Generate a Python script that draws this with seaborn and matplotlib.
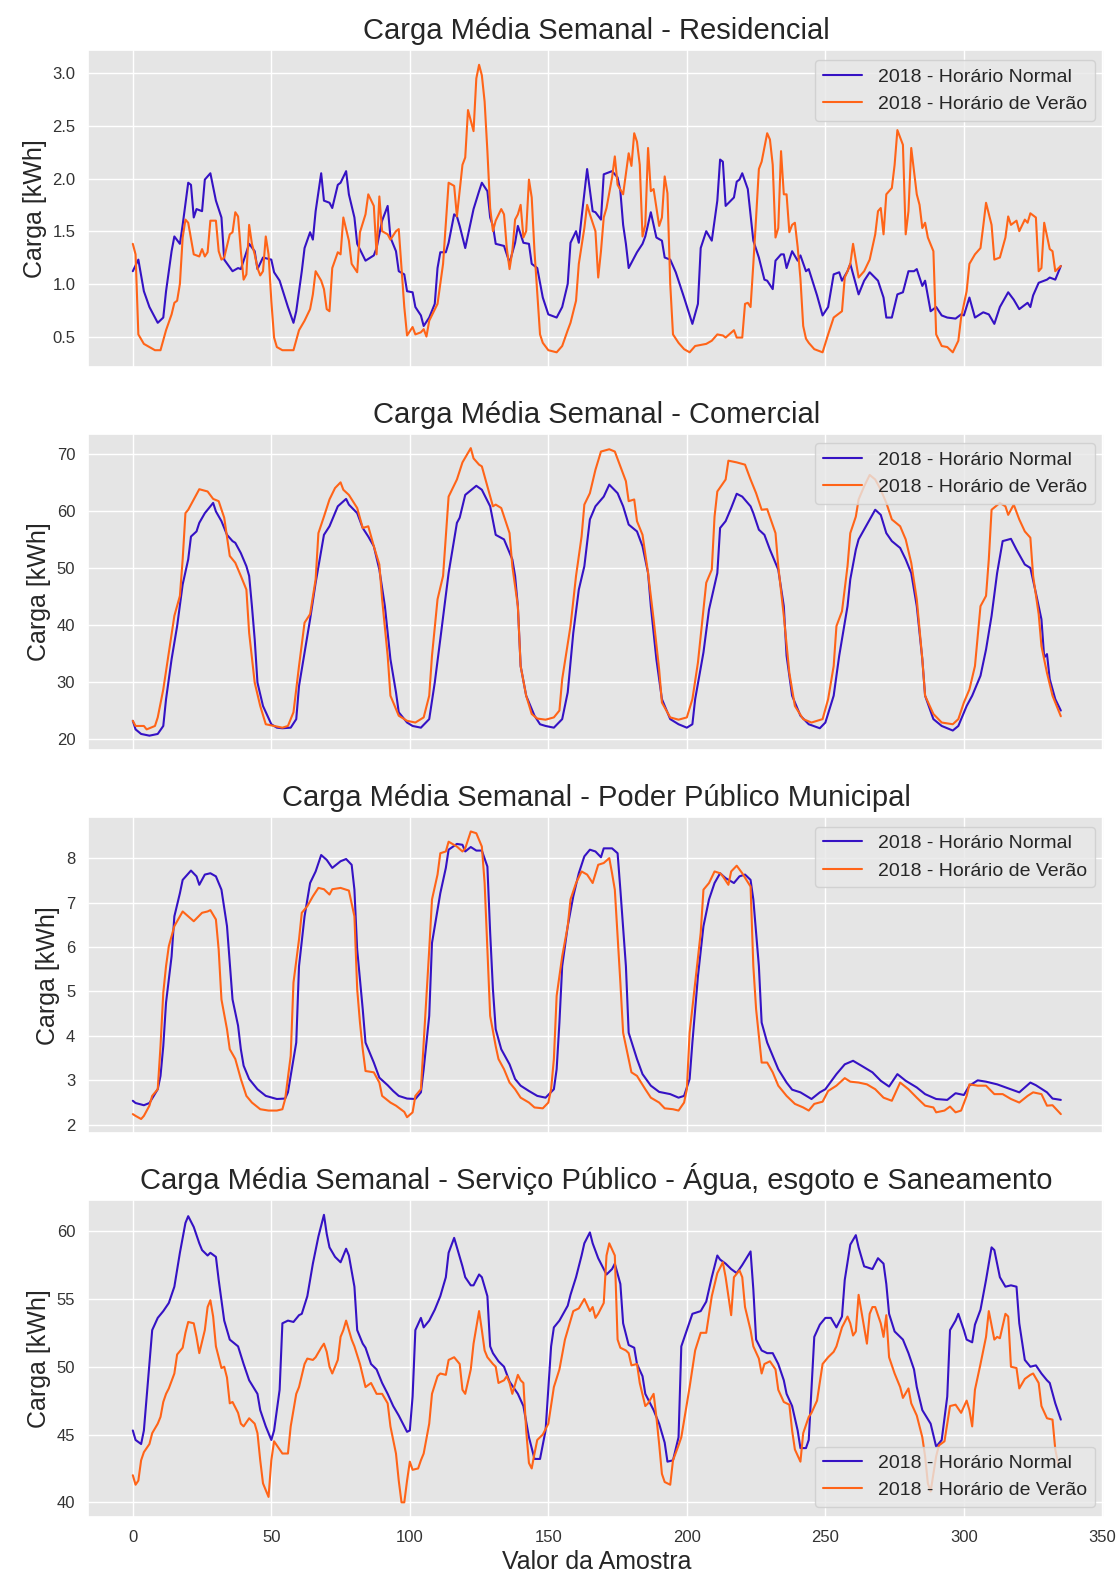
import matplotlib
matplotlib.use("Agg")
import matplotlib.pyplot as plt
from matplotlib.ticker import MultipleLocator
import pandas as pd
import seaborn as sns

# Weekly mean load curves (half-hour samples 0..335), (sample, kWh) pairs
res_normal = [(0,1.12),(2,1.23),(4,0.93),(6,0.78),(9,0.63),(11,0.68),(12,0.93),(14,1.31),(15,1.45),(17,1.38),(18,1.56),(20,1.96),(21,1.94),(22,1.63),(23,1.71),(25,1.69),(26,1.99),(28,2.05),(30,1.79),(32,1.63),(33,1.23),(36,1.12),(38,1.15),(39,1.14),(42,1.38),(44,1.31),(45,1.14),(47,1.25),(50,1.23),(51,1.11),(53,1.03),(56,0.78),(58,0.63),(59,0.74),(61,1.12),(62,1.34),(64,1.49),(65,1.42),(66,1.69),(68,2.05),(69,1.79),(71,1.77),(72,1.72),(74,1.94),(75,1.96),(77,2.07),(78,1.85),(80,1.63),(81,1.38),(84,1.22),(87,1.27),(88,1.34),(90,1.60),(92,1.74),(93,1.44),(95,1.31),(96,1.12),(98,1.09),(99,0.93),(101,0.92),(102,0.78),(104,0.70),(105,0.60),(107,0.68),(109,0.81),(110,1.15),(111,1.30),(113,1.30),(114,1.39),(116,1.66),(117,1.64),(118,1.55),(120,1.34),(123,1.71),(125,1.88),(126,1.96),(128,1.88),(129,1.63),(130,1.55),(131,1.38),(134,1.36),(136,1.20),(138,1.39),(139,1.55),(141,1.39),(143,1.38),(144,1.19),(146,1.15),(148,0.87),(150,0.71),(153,0.68),(155,0.78),(157,1.00),(158,1.39),(160,1.50),(161,1.39),(162,1.63),(164,2.09),(166,1.69),(167,1.68),(169,1.61),(170,2.04),(173,2.07),(175,2.01),(176,1.88),(177,1.56),(178,1.38),(179,1.15),(182,1.30),(184,1.38),(185,1.45),(187,1.68),(189,1.44),(191,1.41),(192,1.25),(194,1.23),(196,1.11),(199,0.87),(202,0.62),(204,0.81),(205,1.34),(207,1.50),(209,1.41),(211,1.79),(212,2.18),(213,2.16),(214,1.74),(217,1.82),(218,1.97),(219,1.99),(220,2.05),(222,1.90),(224,1.41),(226,1.25),(228,1.04),(229,1.03),(231,0.95),(232,1.22),(234,1.28),(235,1.28),(236,1.15),(238,1.31),(240,1.22),(241,1.27),(243,1.12),(244,1.14),(247,0.89),(249,0.70),(251,0.78),(253,1.09),(255,1.11),(256,1.03),(258,1.12),(259,1.19),(262,0.90),(264,1.03),(266,1.11),(269,1.03),(271,0.87),(272,0.68),(274,0.68),(276,0.90),(278,0.92),(280,1.12),(282,1.12),(283,1.14),(285,0.98),(286,1.03),(288,0.74),(290,0.78),(292,0.70),(294,0.68),(297,0.67),(299,0.71),(300,0.70),(302,0.87),(304,0.68),(307,0.73),(309,0.71),(311,0.62),(313,0.78),(316,0.92),(318,0.85),(320,0.76),(323,0.82),(324,0.78),(325,0.89),(327,1.01),(330,1.04),(331,1.06),(333,1.04),(335,1.17)]
res_verao = [(0,1.38),(1,1.28),(2,0.52),(4,0.43),(6,0.40),(8,0.37),(10,0.37),(12,0.56),(14,0.71),(15,0.82),(16,0.84),(17,1.00),(18,1.44),(19,1.61),(20,1.58),(22,1.28),(24,1.26),(25,1.33),(26,1.26),(27,1.30),(28,1.60),(30,1.60),(31,1.31),(32,1.23),(33,1.25),(35,1.47),(36,1.49),(37,1.68),(38,1.64),(39,1.31),(40,1.04),(41,1.09),(42,1.56),(43,1.38),(44,1.28),(45,1.15),(46,1.08),(47,1.12),(48,1.45),(49,1.28),(50,0.84),(51,0.49),(52,0.40),(54,0.37),(58,0.37),(60,0.56),(62,0.65),(64,0.76),(65,0.90),(66,1.12),(68,1.03),(69,0.95),(70,0.76),(71,0.74),(72,1.15),(74,1.30),(75,1.28),(76,1.63),(78,1.41),(79,1.19),(81,1.11),(82,1.49),(84,1.66),(85,1.85),(87,1.74),(88,1.28),(89,1.83),(90,1.50),(92,1.47),(93,1.42),(95,1.50),(96,1.52),(97,1.15),(98,0.78),(99,0.51),(101,0.59),(102,0.52),(104,0.54),(105,0.57),(106,0.50),(107,0.65),(110,0.81),(112,1.19),(114,1.96),(116,1.93),(117,1.64),(119,2.13),(120,2.20),(121,2.65),(123,2.45),(124,2.95),(125,3.08),(126,2.98),(127,2.73),(128,2.26),(129,1.72),(130,1.50),(131,1.60),(133,1.71),(134,1.66),(135,1.34),(136,1.14),(137,1.31),(138,1.61),(139,1.66),(140,1.75),(141,1.44),(142,1.50),(143,1.99),(144,1.82),(145,1.31),(147,0.52),(148,0.44),(150,0.37),(153,0.35),(155,0.41),(157,0.56),(158,0.63),(160,0.84),(161,1.19),(163,1.53),(164,1.75),(165,1.66),(167,1.50),(168,1.06),(169,1.31),(170,1.63),(171,1.72),(173,2.01),(174,2.21),(175,1.94),(177,1.85),(179,2.24),(180,2.12),(181,2.43),(182,2.35),(183,2.13),(184,1.45),(185,1.56),(186,2.29),(187,1.88),(188,1.90),(190,1.55),(191,1.63),(192,2.02),(193,1.86),(194,1.00),(195,0.52),(197,0.44),(199,0.38),(201,0.35),(203,0.41),(207,0.43),(209,0.46),(211,0.52),(213,0.51),(214,0.49),(217,0.56),(218,0.49),(220,0.49),(221,0.81),(222,0.82),(223,0.78),(224,1.19),(225,1.63),(226,2.09),(227,2.16),(229,2.43),(230,2.37),(231,2.13),(232,1.44),(233,1.53),(234,2.26),(235,1.85),(236,1.85),(237,1.49),(238,1.56),(239,1.58),(240,1.35),(241,1.05),(242,0.60),(243,0.48),(244,0.44),(246,0.38),(249,0.35),(251,0.52),(253,0.68),(256,0.74),(257,1.06),(258,1.12),(259,1.19),(260,1.38),(262,1.06),(264,1.12),(266,1.23),(268,1.47),(269,1.69),(270,1.72),(271,1.47),(272,1.85),(274,1.91),(275,2.13),(276,2.46),(278,2.32),(279,1.47),(280,1.69),(281,2.29),(283,1.85),(284,1.75),(285,1.53),(286,1.58),(287,1.44),(289,1.31),(290,0.52),(292,0.41),(294,0.40),(296,0.35),(298,0.46),(299,0.68),(301,0.93),(302,1.19),(304,1.28),(306,1.34),(307,1.55),(308,1.77),(310,1.56),(311,1.23),(313,1.25),(315,1.44),(316,1.64),(317,1.56),(319,1.60),(320,1.50),(322,1.61),(323,1.58),(324,1.67),(326,1.63),(327,1.12),(328,1.15),(329,1.58),(331,1.33),(332,1.31),(333,1.12),(335,1.17)]

com_normal = [(0,23.2),(1,21.7),(3,20.9),(6,20.6),(9,20.9),(11,22.3),(12,27.0),(14,34.0),(16,39.8),(18,47.1),(20,51.5),(21,55.5),(23,56.4),(24,57.9),(26,59.6),(29,61.4),(30,59.9),(32,58.2),(34,55.8),(36,54.7),(37,54.4),(39,52.6),(41,50.3),(42,48.6),(43,43.3),(44,37.5),(45,29.9),(47,25.8),(50,22.6),(52,22.0),(54,21.9),(57,22.0),(59,23.5),(60,29.3),(62,35.2),(64,41.0),(66,47.4),(69,55.8),(71,57.3),(74,60.8),(77,62.1),(78,61.1),(81,59.6),(83,57.0),(85,55.5),(87,53.8),(89,49.7),(91,43.3),(93,34.0),(95,28.2),(96,24.7),(99,22.9),(101,22.3),(104,22.0),(107,23.5),(109,29.9),(111,37.5),(114,49.1),(117,57.9),(118,58.8),(120,62.8),(124,64.4),(126,63.7),(129,60.8),(131,55.8),(134,55.0),(137,51.5),(138,48.6),(139,43.3),(140,32.8),(142,27.6),(145,24.1),(147,22.6),(149,22.3),(152,22.0),(155,23.5),(157,28.2),(159,38.6),(161,46.2),(163,50.3),(165,58.5),(167,60.8),(170,62.5),(172,64.6),(175,63.1),(177,60.8),(179,57.6),(182,56.4),(184,53.8),(186,49.1),(187,43.3),(189,34.0),(191,27.0),(194,23.5),(197,22.6),(200,22.0),(202,22.6),(203,27.0),(206,35.2),(208,42.7),(211,49.1),(212,57.0),(214,58.2),(216,60.5),(218,63.0),(220,62.5),(223,60.8),(224,59.6),(226,56.7),(228,55.8),(230,53.2),(233,49.7),(235,43.3),(236,34.6),(238,27.6),(241,24.1),(244,22.6),(248,21.9),(250,22.9),(253,27.6),(255,34.6),(258,43.3),(259,48.0),(261,53.2),(262,55.0),(265,57.6),(268,60.2),(270,59.3),(272,56.1),(274,54.7),(277,53.5),(279,51.5),(281,49.1),(283,43.3),(285,34.0),(286,27.6),(289,23.5),(292,22.3),(296,21.5),(298,22.3),(301,25.8),(303,27.6),(306,31.1),(308,35.7),(310,41.6),(312,49.1),(314,54.7),(317,55.1),(319,53.2),(322,50.6),(324,50.0),(326,45.6),(328,41.0),(329,34.3),(330,34.9),(331,30.5),(333,27.0),(335,25.0)]
com_verao = [(0,23.2),(1,22.3),(4,22.3),(5,21.7),(8,22.3),(9,23.8),(11,28.7),(13,35.2),(15,41.6),(17,45.1),(18,51.5),(19,59.6),(20,60.2),(22,62.0),(24,63.8),(27,63.4),(29,62.1),(31,61.7),(33,58.8),(35,52.1),(37,50.9),(39,48.6),(41,46.2),(42,38.6),(44,29.9),(46,25.8),(48,22.6),(51,22.3),(54,22.0),(56,22.3),(58,24.7),(60,32.8),(62,40.4),(64,41.9),(66,48.0),(67,56.1),(69,59.0),(71,62.0),(73,64.0),(75,65.0),(76,63.7),(78,62.8),(81,60.5),(83,57.0),(85,57.3),(87,53.8),(89,50.6),(90,44.5),(92,34.6),(93,27.6),(96,24.1),(99,23.2),(102,22.9),(105,23.8),(107,27.6),(108,34.6),(110,44.5),(112,48.6),(114,62.5),(117,65.5),(119,68.5),(122,71.0),(123,69.2),(125,68.1),(126,67.8),(128,64.3),(130,60.8),(131,61.1),(133,60.5),(136,56.1),(137,50.3),(139,43.3),(140,32.8),(142,27.6),(144,24.4),(146,23.6),(149,23.4),(152,23.8),(154,25.0),(155,30.5),(158,39.8),(160,48.6),(162,55.5),(163,61.1),(165,63.1),(167,67.2),(169,70.4),(172,70.8),(174,70.4),(176,67.8),(178,65.2),(179,61.7),(181,62.0),(182,58.2),(184,55.8),(186,49.1),(188,41.0),(190,32.2),(191,26.4),(194,23.8),(197,23.4),(200,23.8),(202,27.0),(204,33.4),(206,42.7),(207,47.4),(209,49.7),(210,59.0),(211,63.4),(214,65.5),(215,68.8),(218,68.5),(221,68.1),(223,65.5),(225,63.1),(227,60.2),(229,60.3),(232,56.1),(233,50.3),(235,41.6),(237,31.6),(239,25.8),(242,23.5),(245,22.9),(249,23.5),(251,27.0),(253,32.8),(254,39.8),(256,42.4),(258,50.3),(259,56.1),(261,59.0),(262,62.0),(264,64.3),(266,66.3),(268,65.5),(270,63.7),(272,61.4),(274,58.5),(277,57.3),(279,55.0),(281,50.9),(283,44.5),(285,34.0),(286,27.6),(289,24.4),(292,22.9),(296,22.6),(298,23.5),(300,26.4),(302,28.7),(304,32.8),(306,43.3),(308,45.1),(309,51.5),(310,60.2),(313,61.4),(315,60.8),(316,59.3),(318,61.1),(320,58.5),(322,56.4),(324,55.3),(325,48.6),(327,41.9),(328,36.3),(330,31.6),(332,27.6),(335,24.0)]

mun_normal = [(0,2.54),(1,2.49),(4,2.44),(6,2.49),(9,2.80),(10,3.10),(11,3.77),(12,4.75),(14,5.79),(15,6.69),(17,7.21),(18,7.51),(21,7.72),(23,7.59),(24,7.40),(26,7.63),(28,7.66),(30,7.59),(32,7.29),(34,6.47),(36,4.82),(38,4.23),(39,3.70),(40,3.33),(42,3.03),(45,2.80),(48,2.65),(52,2.58),(55,2.59),(56,2.73),(57,3.10),(59,3.85),(60,5.57),(62,6.69),(64,7.44),(66,7.70),(68,8.07),(70,7.96),(72,7.78),(75,7.93),(77,7.98),(79,7.85),(80,7.29),(81,5.94),(83,4.60),(84,3.85),(87,3.40),(89,3.06),(92,2.89),(94,2.76),(96,2.65),(99,2.59),(102,2.58),(104,2.73),(105,3.25),(107,4.45),(108,6.09),(111,7.21),(113,7.78),(114,8.19),(117,8.32),(119,8.30),(120,8.15),(122,8.25),(124,8.17),(126,8.17),(128,7.81),(129,6.32),(130,5.05),(131,4.15),(133,3.70),(136,3.36),(138,3.03),(140,2.88),(143,2.76),(146,2.65),(149,2.61),(152,2.80),(153,3.25),(154,4.30),(155,5.57),(157,6.47),(159,7.14),(161,7.66),(163,8.04),(165,8.19),(167,8.15),(169,8.02),(170,8.22),(173,8.22),(175,8.11),(176,7.29),(178,5.57),(179,4.07),(182,3.48),(184,3.14),(187,2.88),(190,2.74),(194,2.69),(197,2.61),(199,2.65),(201,3.03),(202,3.85),(204,5.34),(206,6.47),(208,7.07),(210,7.44),(212,7.66),(214,7.55),(217,7.44),(219,7.59),(221,7.63),(223,7.51),(224,7.07),(226,5.57),(227,4.30),(229,3.85),(231,3.55),(233,3.25),(236,2.95),(238,2.79),(241,2.73),(245,2.58),(248,2.73),(250,2.80),(254,3.14),(257,3.36),(260,3.44),(263,3.33),(267,3.18),(270,2.99),(273,2.86),(276,3.14),(279,2.99),(283,2.84),(286,2.69),(290,2.58),(294,2.56),(297,2.71),(300,2.67),(302,2.88),(305,3.00),(308,2.97),(312,2.91),(316,2.82),(320,2.73),(322,2.84),(324,2.95),(326,2.89),(330,2.73),(332,2.59),(335,2.56)]
mun_verao = [(0,2.24),(1,2.20),(3,2.13),(4,2.20),(6,2.43),(7,2.65),(9,2.80),(10,3.77),(11,4.97),(12,5.57),(13,6.02),(15,6.47),(16,6.58),(18,6.80),(20,6.69),(22,6.58),(25,6.77),(27,6.80),(28,6.83),(30,6.62),(31,5.94),(32,4.82),(34,4.15),(35,3.70),(37,3.48),(39,3.03),(41,2.65),(43,2.50),(46,2.35),(49,2.32),(52,2.32),(54,2.35),(55,2.58),(57,3.55),(58,5.20),(60,6.17),(61,6.77),(63,6.92),(65,7.14),(67,7.33),(69,7.30),(71,7.18),(72,7.30),(75,7.33),(78,7.27),(80,6.69),(81,5.05),(82,4.30),(83,3.70),(84,3.21),(87,3.18),(89,2.95),(90,2.65),(93,2.50),(95,2.43),(98,2.29),(99,2.17),(101,2.28),(102,2.65),(104,2.80),(105,3.85),(107,5.94),(108,7.07),(110,7.63),(111,8.11),(113,8.15),(114,8.37),(117,8.26),(119,8.15),(120,8.22),(122,8.60),(124,8.56),(126,8.26),(127,7.44),(128,5.94),(129,4.45),(131,3.77),(132,3.48),(134,3.25),(136,2.95),(138,2.80),(140,2.61),(143,2.50),(145,2.39),(148,2.37),(150,2.50),(151,2.80),(152,3.48),(153,4.90),(155,5.79),(157,6.47),(158,7.07),(160,7.44),(162,7.70),(164,7.63),(166,7.44),(168,7.85),(170,7.89),(172,8.00),(173,7.66),(174,7.29),(176,5.20),(177,4.07),(179,3.48),(180,3.18),(182,3.10),(185,2.80),(187,2.61),(190,2.50),(192,2.37),(195,2.35),(197,2.32),(199,2.50),(200,2.80),(201,4.07),(203,5.20),(205,6.32),(206,7.29),(208,7.44),(210,7.70),(212,7.66),(213,7.59),(215,7.40),(216,7.70),(218,7.83),(220,7.66),(223,7.36),(224,5.57),(225,4.60),(227,3.40),(229,3.40),(231,3.18),(233,2.88),(236,2.65),(239,2.47),(242,2.39),(244,2.32),(246,2.47),(249,2.52),(251,2.76),(254,2.88),(257,3.05),(259,2.97),(262,2.95),(265,2.91),(268,2.80),(271,2.61),(274,2.54),(277,2.95),(280,2.80),(283,2.61),(286,2.43),(289,2.39),(290,2.28),(293,2.32),(295,2.41),(297,2.28),(299,2.32),(301,2.65),(302,2.91),(305,2.88),(308,2.88),(311,2.69),(314,2.69),(317,2.58),(320,2.50),(323,2.65),(325,2.73),(328,2.69),(330,2.43),(332,2.44),(335,2.24)]

agua_normal = [(0,45.3),(1,44.6),(3,44.3),(4,45.3),(5,47.8),(7,52.7),(9,53.6),(11,54.1),(13,54.7),(15,55.9),(17,58.4),(19,60.6),(20,61.1),(22,60.3),(24,59.1),(25,58.6),(27,58.2),(28,58.4),(30,58.1),(31,56.4),(33,53.4),(35,52.0),(38,51.5),(40,50.2),(42,49.0),(45,48.0),(46,46.8),(48,45.6),(50,44.6),(51,45.3),(53,48.3),(54,53.2),(56,53.4),(58,53.3),(60,53.8),(61,53.9),(63,55.2),(65,57.6),(67,59.6),(69,61.2),(70,59.8),(71,58.8),(73,58.1),(75,57.7),(76,58.2),(77,58.7),(78,58.2),(80,55.9),(81,52.7),(83,51.7),(84,51.4),(86,50.2),(88,49.8),(90,48.8),(92,48.0),(94,47.1),(96,46.4),(98,45.6),(99,45.2),(100,45.3),(101,47.8),(102,52.7),(104,53.6),(105,52.9),(107,53.4),(109,54.2),(111,55.2),(113,56.6),(114,58.4),(116,59.5),(117,58.8),(119,57.4),(120,56.6),(122,56.0),(123,56.0),(125,56.8),(126,56.6),(128,55.2),(129,51.5),(130,51.0),(132,50.4),(134,50.0),(136,48.9),(139,48.0),(141,47.1),(143,44.8),(145,43.2),(147,43.2),(149,45.3),(151,51.5),(152,52.9),(154,53.4),(157,54.5),(158,55.3),(160,56.6),(162,58.2),(163,59.1),(165,59.9),(166,59.1),(168,58.0),(169,57.6),(171,56.8),(173,57.2),(174,57.6),(176,56.1),(177,53.2),(179,51.6),(181,51.4),(182,50.2),(184,49.3),(185,48.0),(188,46.8),(190,45.8),(192,44.4),(193,43.0),(195,43.1),(197,44.8),(198,51.5),(200,52.7),(202,53.9),(205,54.1),(207,54.8),(209,56.6),(211,58.2),(212,57.9),(214,57.6),(216,57.2),(218,56.9),(220,57.5),(223,58.5),(224,55.7),(225,52.0),(227,51.2),(229,51.0),(231,51.0),(233,50.2),(235,49.0),(236,48.0),(238,47.1),(240,45.3),(241,44.0),(243,44.0),(244,44.6),(246,52.2),(248,53.1),(250,53.6),(252,53.6),(254,52.9),(256,53.7),(257,56.4),(259,59.0),(261,59.7),(262,58.8),(264,57.4),(267,57.2),(269,58.0),(271,57.6),(272,56.1),(273,53.9),(275,52.6),(278,52.0),(280,51.0),(282,49.8),(283,48.5),(285,46.8),(288,45.8),(290,44.1),(292,44.6),(294,47.8),(295,52.7),(297,53.4),(298,53.9),(300,52.7),(301,52.0),(303,51.8),(304,53.1),(306,54.2),(308,56.4),(310,58.8),(311,58.6),(313,56.6),(315,55.9),(317,56.0),(319,55.9),(320,53.2),(322,50.5),(324,50.0),(326,50.1),(328,49.5),(330,49.0),(331,48.8),(333,47.3),(335,46.1)]
agua_verao = [(0,42.0),(1,41.3),(2,41.6),(3,43.1),(4,43.7),(6,44.3),(7,45.1),(9,45.8),(10,46.3),(11,47.4),(12,48.0),(13,48.4),(15,49.5),(16,50.9),(18,51.4),(19,52.5),(20,53.3),(22,53.2),(23,52.2),(24,51.0),(26,52.7),(27,54.4),(28,54.9),(29,53.7),(30,51.5),(32,49.9),(33,50.0),(34,49.2),(35,47.3),(36,47.4),(38,46.6),(39,45.8),(40,45.6),(42,46.2),(44,45.8),(45,45.1),(46,43.1),(47,41.4),(49,40.4),(50,43.1),(51,44.5),(53,43.9),(54,43.6),(56,43.6),(57,45.6),(59,48.0),(60,48.5),(62,50.2),(63,50.6),(65,50.5),(66,50.7),(68,51.4),(69,51.7),(70,51.1),(71,50.0),(72,49.5),(74,50.5),(75,52.2),(76,52.7),(77,53.4),(79,52.0),(80,51.5),(82,50.2),(84,48.5),(86,48.8),(88,48.0),(90,48.0),(92,47.3),(93,45.6),(95,43.6),(96,41.6),(97,40.0),(98,40.0),(99,41.6),(100,43.0),(101,42.4),(103,42.5),(104,43.1),(105,43.6),(107,45.8),(108,48.0),(110,49.3),(111,49.5),(113,49.4),(114,50.5),(116,50.7),(118,50.2),(119,48.3),(120,48.0),(122,49.8),(123,51.7),(125,54.1),(126,52.7),(127,51.2),(128,50.7),(130,50.2),(131,50.0),(132,48.8),(134,49.0),(135,49.3),(136,48.8),(137,48.0),(139,49.4),(140,49.0),(141,48.8),(142,45.3),(143,42.9),(144,42.5),(145,43.6),(146,44.6),(148,45.0),(150,45.8),(152,48.5),(154,49.8),(156,52.0),(159,54.1),(161,54.3),(163,55.0),(165,54.1),(166,54.4),(167,53.6),(168,53.9),(170,54.7),(171,58.2),(172,59.1),(174,58.2),(175,52.0),(176,51.4),(178,51.2),(179,51.0),(180,50.1),(182,50.2),(183,48.8),(185,47.1),(186,47.3),(188,48.0),(189,46.3),(190,44.3),(191,42.1),(192,41.5),(194,41.3),(195,43.1),(197,44.2),(198,44.8),(200,47.3),(201,48.5),(203,51.2),(205,52.5),(207,52.5),(209,55.2),(211,56.9),(213,57.7),(214,56.6),(215,55.2),(216,53.8),(217,56.6),(219,57.1),(220,56.6),(221,54.4),(223,52.7),(224,51.5),(226,50.6),(227,49.5),(228,50.2),(230,50.4),(232,49.8),(233,48.3),(235,47.4),(237,47.2),(238,45.3),(239,43.9),(241,43.0),(242,45.1),(244,46.3),(245,46.6),(247,47.5),(249,50.2),(251,50.7),(253,51.1),(254,51.5),(256,52.9),(258,53.7),(259,53.2),(260,52.3),(261,52.6),(262,55.3),(264,52.9),(265,51.7),(266,53.9),(267,54.4),(268,54.4),(270,53.2),(271,52.2),(272,53.8),(273,50.7),(275,49.5),(277,48.5),(278,47.7),(280,48.4),(281,47.3),(283,46.4),(285,44.8),(286,43.4),(287,41.4),(288,40.8),(290,43.4),(291,44.2),(293,44.5),(295,47.1),(297,47.2),(299,46.6),(301,47.5),(302,46.8),(303,45.6),(304,48.3),(306,50.2),(308,52.2),(309,54.1),(311,52.0),(312,52.2),(313,52.1),(315,53.9),(316,53.7),(317,50.0),(319,49.9),(320,48.4),(322,49.1),(324,49.4),(325,49.5),(327,48.8),(328,47.1),(330,46.2),(332,46.1),(333,43.9),(334,42.9)]

serie_normal = "2018 - Horário Normal"
serie_verao = "2018 - Horário de Verão"
cores = {serie_normal: "#3512C4", serie_verao: "#FF6418"}

paineis = [
    ("Carga Média Semanal - Residencial", res_normal, res_verao, 0.5, "upper right"),
    ("Carga Média Semanal - Comercial", com_normal, com_verao, 10, "upper right"),
    ("Carga Média Semanal - Poder Público Municipal", mun_normal, mun_verao, 1, "upper right"),
    ("Carga Média Semanal - Serviço Público - Água, esgoto e Saneamento",
     agua_normal, agua_verao, 5, "lower right"),
]

sns.set_theme(style="darkgrid", rc={
    "axes.facecolor": "#E5E5E5",
    "grid.color": "white",
    "grid.linewidth": 1.0,
    "axes.edgecolor": "white",
})
plt.rcParams["font.family"] = ["Liberation Sans", "DejaVu Sans"]


def tabela(pares, serie):
    amostras, cargas = zip(*pares)
    return pd.DataFrame({"amostra": amostras, "carga": cargas, "serie": serie})


fig, axes = plt.subplots(4, 1, figsize=(11.2, 15.75), dpi=100, sharex=True)
fig.subplots_adjust(left=0.079, right=0.986, top=0.968, bottom=0.037, hspace=0.212)

for ax, (titulo, normal, verao, passo, pos_leg) in zip(axes, paineis):
    df = pd.concat([tabela(normal, serie_normal), tabela(verao, serie_verao)],
                   ignore_index=True)
    sns.lineplot(data=df, x="amostra", y="carga", hue="serie", palette=cores,
                 estimator=None, linewidth=1.5, ax=ax)
    ax.set_title(titulo, fontsize=21, color="#262626", pad=8)
    ax.set_ylabel("Carga [kWh]", fontsize=18)
    ax.set_xlabel("")
    ax.yaxis.set_major_locator(MultipleLocator(passo))
    ax.xaxis.set_major_locator(MultipleLocator(50))
    ax.tick_params(labelsize=12, colors="#333333")
    ax.legend(loc=pos_leg, fontsize=14, frameon=True, facecolor="#E8E8E8",
              edgecolor="#CCCCCC", framealpha=0.8)

axes[-1].set_xlabel("Valor da Amostra", fontsize=18)
axes[-1].set_xlim(-16.0, 350.7)

fig.savefig("out.png", dpi=100)
